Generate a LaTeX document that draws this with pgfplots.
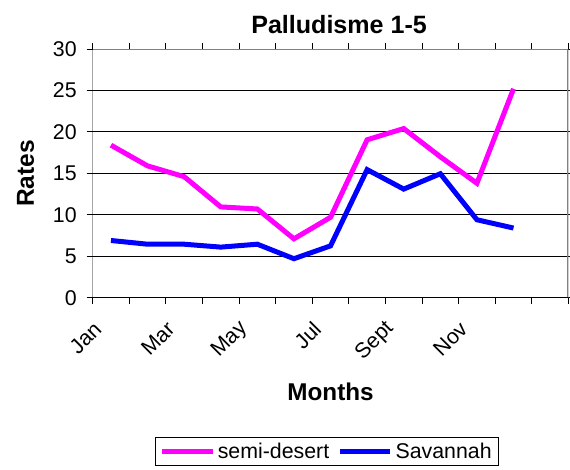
\documentclass[border=0pt]{standalone}
\usepackage{pgfplots}
\pgfplotsset{compat=1.18}
\usepackage{fontspec}
\setmainfont{Liberation Sans}
\definecolor{mag}{rgb}{1,0,1}
\definecolor{blu}{rgb}{0,0,1}
\pgfplotstableread{
m semi sav
0 18.4 6.9
1 15.9 6.45
2 14.6 6.45
3 10.95 6.1
4 10.7 6.45
5 7.1 4.7
6 9.7 6.25
7 19.05 15.45
8 20.4 13.1
9 17.0 14.95
10 13.8 9.4
11 25.2 8.4
}\datatable
\begin{document}
\begin{tikzpicture}
\path[use as bounding box] (0,0) rectangle (427.5pt,351.75pt);
\begin{axis}[
  at={(69.5pt,128.5pt)}, anchor=south west,
  scale only axis, width=356.8pt, height=186.5pt,
  xmin=-0.5, xmax=12.5, ymin=0, ymax=30,
  ytick={0,5,...,30},
  ymajorgrids, grid style={black, line width=0.6pt},
  xtick={0,2,4,6,8,10},
  xticklabels={Jan,Mar,May,Jul,Sept,Nov},
  minor xtick={-0.5,0.5,...,12.5},
  major x tick style={draw=none},
  xticklabel style={xshift=-7.5pt, yshift=-14pt, rotate=45, anchor=east},
  tick align=outside, major tick length=4.5pt, minor tick length=4.5pt,
  tick style={black, line width=0.75pt},
  axis line style={draw=none},
  /pgf/number format/assume math mode=true,
  yticklabel style={xshift=-4pt},
  tick label style={font=\fontsize{16}{19}\selectfont},
  title={Palludisme 1-5},
  title style={at={(axis description cs:0.5,1)}, anchor=center, xshift=6.4pt, yshift=12.5pt, font=\bfseries\fontsize{18.8}{22}\selectfont},
  ylabel={Rates},
  ylabel style={at={(axis description cs:-0.141,0.5)}, anchor=center, font=\bfseries\fontsize{18.4}{22}\selectfont},
  xlabel={Months},
  xlabel style={at={(axis description cs:0.5,-0.378)}, anchor=center, font=\bfseries\fontsize{18.2}{22}\selectfont},
  legend columns=2,
  legend style={at={(axis description cs:0.131,-0.560)}, anchor=north west, draw=black, line width=0.75pt, font=\fontsize{16}{19}\selectfont, /tikz/every even column/.append style={column sep=4pt}},
  legend image code/.code={\draw[#1] (0pt,0pt) -- (38pt,0pt);},
]
\addplot[mag, line width=3.75pt] table[x=m, y=semi] {\datatable};
\addlegendentry{semi-desert}
\addplot[blu, line width=3.75pt] table[x=m, y=sav] {\datatable};
\addlegendentry{Savannah}
\draw[gray, line width=1.5pt] (rel axis cs:0,1) -- (rel axis cs:1,1) -- (rel axis cs:1,0);
\draw[black, line width=0.9pt] (rel axis cs:0,1) -- (rel axis cs:0,0) -- (rel axis cs:1,0);
\end{axis}
\end{tikzpicture}
\end{document}
